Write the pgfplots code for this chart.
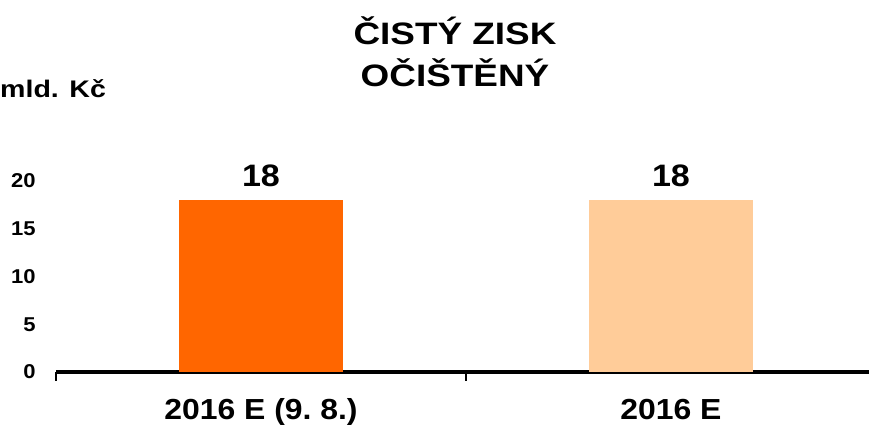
\documentclass[border=0pt]{standalone}
\usepackage{fontspec}
\setmainfont{Liberation Sans}[FakeStretch=1.1]
\newfontfamily\widefont{Liberation Sans}[FakeStretch=1.19]
\usepackage{pgfplots}
\pgfplotsset{compat=1.18}
\definecolor{BarDark}{HTML}{FF6600}
\definecolor{BarLight}{HTML}{FFCC99}

\begin{document}
\begin{tikzpicture}
\begin{axis}[
    at={(0,0)}, anchor=origin,
    scale only axis,
    width=813bp, height=210bp,
    xmin=0, xmax=1.983,
    ymin=0, ymax=22,
    clip=false,
    axis x line*=bottom,
    axis y line*=left,
    x axis line style={line width=3bp, -},
    y axis line style={draw=none},
    xtick={0.5,1.5},
    xticklabels={2016 E (9.~8.), 2016 E},
    minor xtick={0,1},
    major x tick style={draw=none},
    minor x tick style={line width=2bp, black},
    minor tick length=9bp,
    tick align=outside,
    ytick={0,5,10,15,20},
    ytick style={draw=none},
    /pgf/number format/assume math mode=true,
    yticklabel style={font=\fontsize{20bp}{23bp}\selectfont\bfseries, anchor=east, inner sep=0pt, xshift=-16bp},
    xticklabel style={font=\fontsize{29bp}{33bp}\selectfont\bfseries, anchor=base, inner sep=0pt, yshift=-43bp},
    ybar, bar width=0.4,
    nodes near coords,
    nodes near coords style={font=\fontsize{31bp}{35bp}\selectfont\bfseries, anchor=base, inner sep=0pt, yshift=14bp},
]
\addplot[fill=BarDark, draw=none, bar shift=0pt] coordinates {(0.5,18)};
\addplot[fill=BarLight, draw=none, bar shift=0pt] coordinates {(1.5,18)};
\end{axis}
\node[anchor=base, font=\widefont\fontsize{31bp}{36bp}\selectfont\bfseries] at (399bp,327bp) {ČISTÝ ZISK};
\node[anchor=base, font=\widefont\fontsize{31bp}{36bp}\selectfont\bfseries] at (399bp,285bp) {OČIŠTĚNÝ};
\node[anchor=base west, inner sep=0pt, font=\widefont\fontsize{24bp}{28bp}\selectfont\bfseries] at (-56bp,274bp) {mld. Kč};
\pgfresetboundingbox
\useasboundingbox (-56bp,-53bp) rectangle (813bp,372bp);
\end{tikzpicture}
\end{document}
